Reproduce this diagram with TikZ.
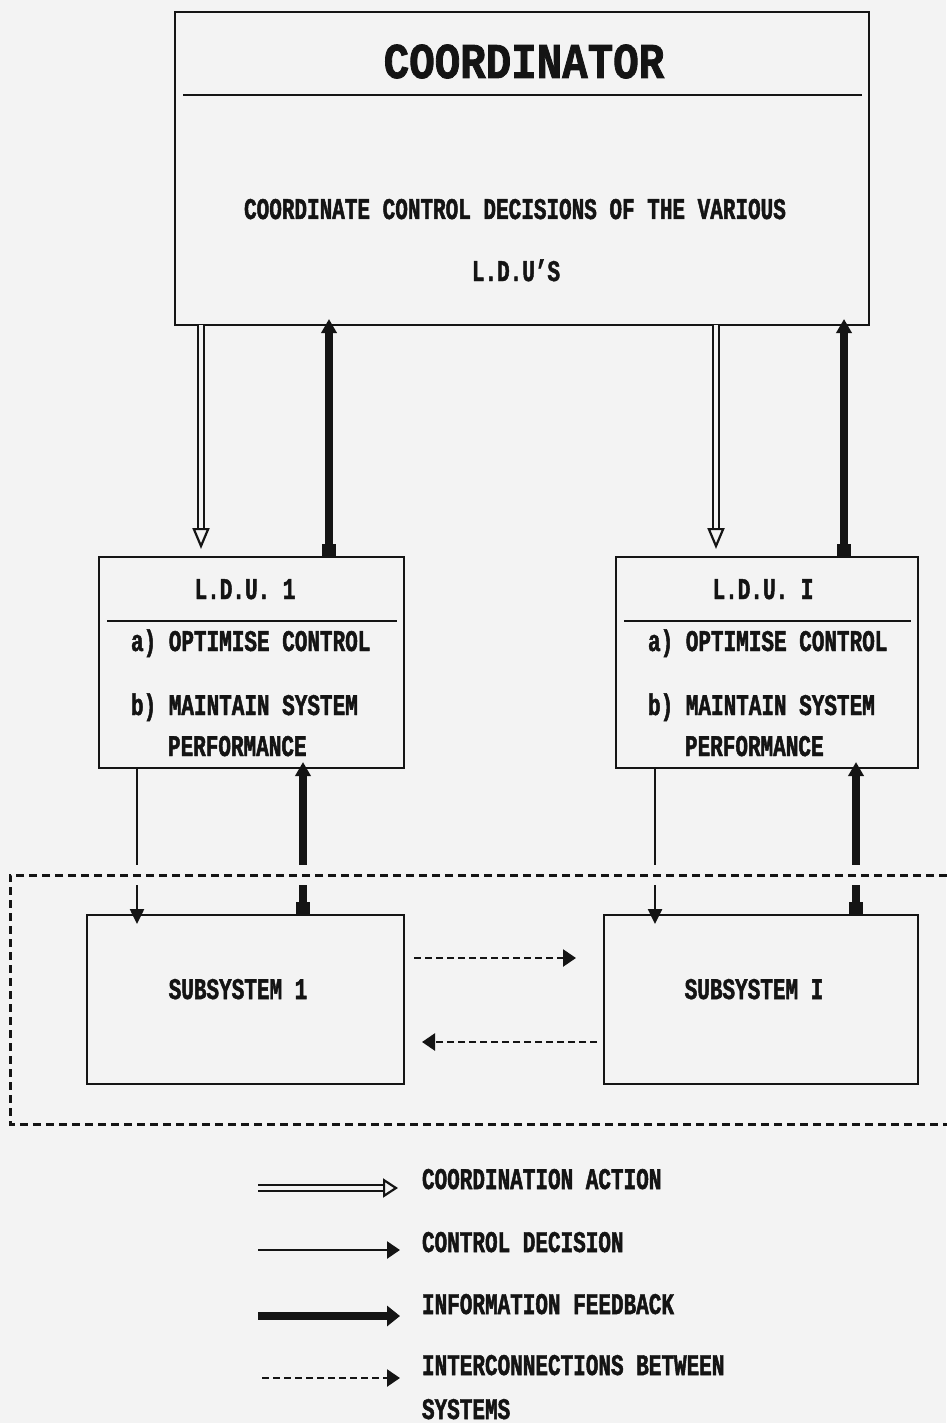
\documentclass[tikz,border=0pt]{standalone}
\usepackage{fontspec}
\setmainfont{Liberation Mono}[FakeStretch=0.7, FakeBold=1.6]
\newfontfamily\titlefont{Liberation Mono}[FakeStretch=0.85, FakeBold=1.6]
\usetikzlibrary{arrows.meta}
\definecolor{bg}{RGB}{243,243,243}
\definecolor{ink}{RGB}{20,20,20}
\tikzset{
  box/.style={draw=ink, line width=2.8pt, inner sep=0pt, outer sep=0pt},
  txt/.style={inner sep=0pt, outer sep=0pt, text=ink, font=\fontsize{30}{30}\selectfont\bfseries},
  ttl/.style={inner sep=0pt, outer sep=0pt, text=ink, font=\titlefont\fontsize{50}{50}\selectfont\bfseries},
  rule/.style={draw=ink, line width=2.8pt},
  coordarrow/.style={draw=ink, line width=2.2pt, double=bg, double distance=3.5pt,
     -{Triangle[open, length=21pt, width=17pt]}},
  ctrlarrow/.style={draw=ink, line width=2.5pt, -{Triangle[length=15pt, width=14pt]}},
  fbarrow/.style={draw=ink, line width=7.5pt,
     {Square[length=13pt, width=14pt]}-{Triangle[length=14pt, width=15pt]}},
  interarrow/.style={draw=ink, line width=2.5pt, dash pattern=on 7pt off 4pt,
     -{Triangle[length=13pt, width=17pt]}},
  framebox/.style={draw=ink, line width=3pt, dash pattern=on 8pt off 5pt},
  lgcoord/.style={draw=ink, line width=2.2pt, double=bg, double distance=3.5pt,
     -{Triangle[open, length=15pt, width=19pt]}},
  lgctrl/.style={draw=ink, line width=2.5pt, -{Triangle[length=13pt, width=17pt]}},
  lgfb/.style={draw=ink, line width=8pt, -{Triangle[length=13pt, width=20pt]}},
}
\begin{document}
\begin{tikzpicture}[x=1pt, y=-1pt]
\fill[bg] (0,0) rectangle (946,1423);
\useasboundingbox (0,0) rectangle (946,1423);

% Coordinator
\node[box, minimum width=694pt, minimum height=313pt] (coord) at (522,168.5) {};
\draw[rule] (183,95) -- (862,95);
\node[ttl, anchor=base] (ctitle) at (524,78) {COORDINATOR};
\node[txt, anchor=base] (cline1) at (515,219) {COORDINATE CONTROL DECISIONS OF THE VARIOUS};
\node[txt, anchor=base] (cline2) at (516,281) {L.D.U'S};

% LDU 1
\node[box, minimum width=305pt, minimum height=211pt] (ldua) at (251.5,662.5) {};
\draw[rule] (107,621) -- (397,621);
\node[txt, anchor=base] (ldua-t) at (245,599) {L.D.U. 1};
\node[txt, anchor=base west] (ldua-a) at (131,651) {a) OPTIMISE CONTROL};
\node[txt, anchor=base west] (ldua-b) at (131,715) {b) MAINTAIN SYSTEM};
\node[txt, anchor=base west] (ldua-c) at (168,756) {PERFORMANCE};

% LDU I
\node[box, minimum width=302pt, minimum height=211pt] (ldub) at (767,662.5) {};
\draw[rule] (624,621) -- (911,621);
\node[txt, anchor=base] (ldub-t) at (763,599) {L.D.U. I};
\node[txt, anchor=base west] (ldub-a) at (648,651) {a) OPTIMISE CONTROL};
\node[txt, anchor=base west] (ldub-b) at (648,715) {b) MAINTAIN SYSTEM};
\node[txt, anchor=base west] (ldub-c) at (685,756) {PERFORMANCE};

% Subsystems
\node[box, minimum width=317pt, minimum height=169pt] (suba) at (245.5,999.5) {};
\node[txt, anchor=base] (suba-t) at (238,999) {SUBSYSTEM 1};
\node[box, minimum width=314pt, minimum height=169pt] (subb) at (761,999.5) {};
\node[txt, anchor=base] (subb-t) at (754,999) {SUBSYSTEM I};

% Coordinator <-> LDU
\draw[coordarrow, shorten >=8pt] (coord.south -| 201,0) -- (ldua.north -| 201,0);
\draw[fbarrow, shorten >=-6pt] (ldua.north -| 329,0) -- (coord.south -| 329,0);
\draw[coordarrow, shorten >=8pt] (coord.south -| 716,0) -- (ldub.north -| 716,0);
\draw[fbarrow, shorten >=-6pt] (ldub.north -| 844,0) -- (coord.south -| 844,0);

% LDU <-> subsystems
\draw[ctrlarrow, shorten >=-9pt] (ldua.south -| 137,0) -- (suba.north -| 137,0);
\draw[fbarrow, shorten >=-6pt] (suba.north -| 303,0) -- (ldua.south -| 303,0);
\draw[ctrlarrow, shorten >=-9pt] (ldub.south -| 655,0) -- (subb.north -| 655,0);
\draw[fbarrow, shorten >=-6pt] (subb.north -| 856,0) -- (ldub.south -| 856,0);

% gap in the arrows where they cross the frame
\draw[bg, line width=20pt] (20,875) -- (946,875);
% dashed frame (open to the right edge)
\draw[framebox] (960,875) -- (10,875) -- (10,1124) -- (960,1124);

% interconnections
\draw[interarrow, shorten <=10pt, shorten >=28pt] ([yshift=41.5pt]suba.east) -- ([yshift=41.5pt]subb.west);
\draw[interarrow, shorten <=7pt, shorten >=18pt] ([yshift=-42.5pt]subb.west) -- ([yshift=-42.5pt]suba.east);

% legend
\coordinate (l1a) at (258,1188); \coordinate (l1b) at (398,1188);
\coordinate (l2a) at (258,1250); \coordinate (l2b) at (400,1250);
\coordinate (l3a) at (258,1316); \coordinate (l3b) at (400,1316);
\coordinate (l4a) at (262,1378); \coordinate (l4b) at (400,1378);
\draw[lgcoord] (l1a) -- (l1b);
\draw[lgctrl] (l2a) -- (l2b);
\draw[lgfb] (l3a) -- (l3b);
\draw[interarrow] (l4a) -- (l4b);
\node[txt, anchor=base west] (lg1) at (422,1189) {COORDINATION ACTION};
\node[txt, anchor=base west] (lg2) at (422,1252) {CONTROL DECISION};
\node[txt, anchor=base west] (lg3) at (422,1314) {INFORMATION FEEDBACK};
\node[txt, anchor=base west] (lg4) at (422,1375) {INTERCONNECTIONS BETWEEN};
\node[txt, anchor=base west] (lg5) at (422,1419) {SYSTEMS};
\end{tikzpicture}
\end{document}
